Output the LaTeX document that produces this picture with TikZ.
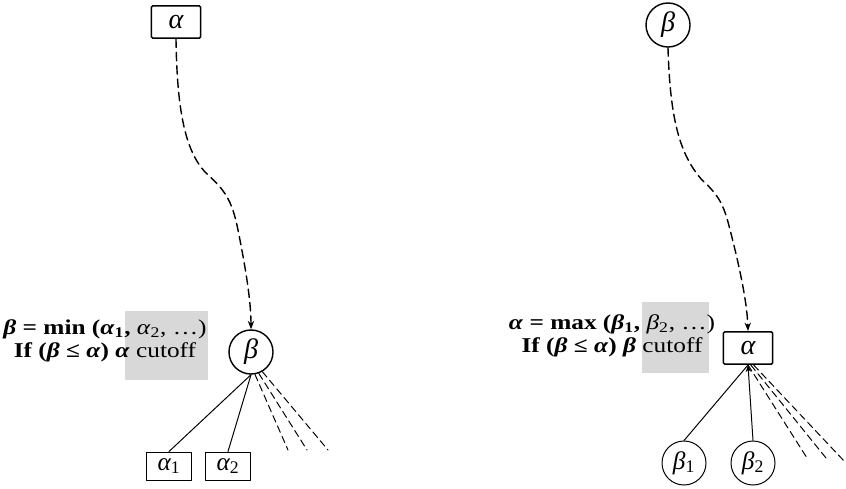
\documentclass[tikz,border=0pt]{standalone}
\usepackage{fontspec}
\setmainfont{Liberation Serif}
\newfontfamily\notefont[FakeStretch=1.2]{Liberation Serif}
\usetikzlibrary{arrows.meta}
\definecolor{notegray}{RGB}{216,216,216}
\newcommand\bgk[1]{\textbf{\textit{#1}}}
\newcommand\idx[1]{\textsubscript{\upshape #1}}
\tikzset{
  maxbox/.style={draw,line width=1.1pt,rounded corners=1pt,
    minimum width=1.23cm,minimum height=0.81cm,inner sep=0pt},
  minball/.style={draw,circle,line width=1pt,minimum size=1.1cm,inner sep=0pt},
  leafbox/.style={draw,line width=0.7pt,minimum width=1.12cm,
    minimum height=0.7cm,inner sep=0pt,font=\fontsize{18}{20}\selectfont\itshape},
  leafball/.style={draw,circle,line width=0.7pt,minimum size=1.1cm,inner sep=0pt,
    font=\fontsize{18}{20}\selectfont\itshape},
  search/.style={line width=1pt,dash pattern=on 6pt off 3.5pt,
    -{Stealth[length=6pt,width=4.5pt]}},
  prune/.style={line width=0.7pt,dash pattern=on 5pt off 3pt},
  note/.style={font=\notefont\fontsize{15}{16.5}\selectfont,align=center,
    inner sep=0pt}
}
\begin{document}
\begin{tikzpicture}[x=0.025cm,y=-0.025cm,line cap=round,line join=round,
  every node/.style={font=\fontsize{20}{22}\selectfont\itshape}]
  \useasboundingbox (0,0) rectangle (846,488);
  % (left) a MIN node reached from a MAX ancestor
  \fill[notegray] (125,311) rectangle (208,380);
  \node[note] (minnote) at (105,341)
    {\bgk{β}\textbf{ = min (}\bgk{α}\textbf{\textsubscript{1},}
     \textit{α}\textsubscript{2}, …)\\
     \textbf{If (}\bgk{β}\textbf{ ≤ }\bgk{α}\textbf{) }\bgk{α} cutoff};
  \node[maxbox] (atop) at (176,22) {α};
  \node[minball] (bmid) at (251,352) {β};
  \node[leafbox] (a1) at (169,466) {α\idx{1}};
  \node[leafbox] (a2) at (228,466) {α\idx{2}};
  \draw[search] (atop.south) .. controls (177,110) and (185,150) .. (205,172)
    .. controls (225,190) and (232,200) .. (238,230)
    .. controls (245,265) and (251,300) .. (bmid.north);
  \draw[line width=0.7pt] (bmid.south) -- (a1.north);
  \draw[line width=0.7pt] (bmid.south) -- (a2.north);
  \foreach \ang/\ex in {-80/288,-70/307,-60/328} {
    \coordinate (lcut) at (\ex,450);
    \draw[prune] (bmid.\ang) -- (lcut);
  }
  % (right) a MAX node reached from a MIN ancestor
  \fill[notegray] (642,302) rectangle (709,373);
  \node[note] (maxnote) at (612,336)
    {\bgk{α}\textbf{ = max (}\bgk{β}\textbf{\textsubscript{1}, }%
     \textit{β}\textsubscript{2}, …)\\
     \textbf{If (}\bgk{β}\textbf{ ≤ }\bgk{α}\textbf{) }\bgk{β} cutoff};
  \node[minball] (btop) at (668,25) {β};
  \node[maxbox] (amid) at (748,348) {α};
  \node[leafball] (b1) at (684,463) {β\idx{1}};
  \node[leafball] (b2) at (753,463) {β\idx{2}};
  \draw[search] (btop.south) .. controls (670,120) and (680,155) .. (702,180)
    .. controls (715,192) and (722,200) .. (728,222)
    .. controls (738,260) and (747,300) .. (amid.north);
  \draw[line width=0.7pt] (b1.north) -- (amid.south);
  \draw[line width=0.7pt,-{Stealth[length=5pt,width=4pt]}] (b2.north) -- (amid.south);
  \foreach \sx/\ex/\ey in {0/807/458,2/826/458,4/845/462} {
    \coordinate (rcut) at (\ex,\ey);
    \draw[prune] ([xshift=\sx pt]amid.south) -- (rcut);
  }
\end{tikzpicture}
\end{document}
